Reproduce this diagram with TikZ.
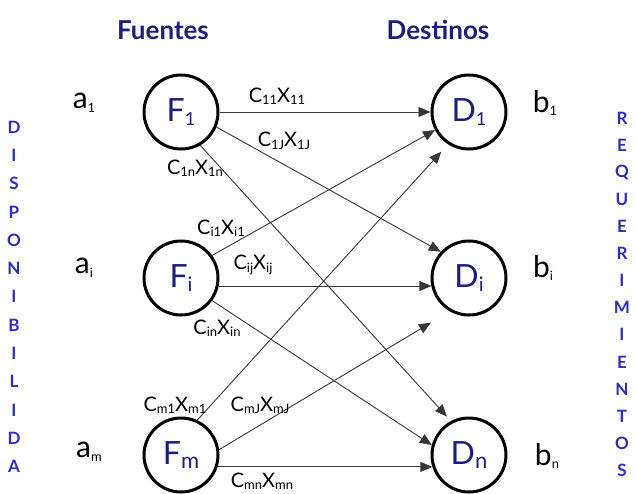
\documentclass[tikz,border=0pt]{standalone}
\usepackage{fontspec}
\setmainfont{Lato}
\usetikzlibrary{arrows.meta}
\definecolor{navy}{RGB}{30,30,120}
\definecolor{sideblue}{RGB}{45,45,190}
\definecolor{linegray}{RGB}{55,55,55}
\newcommand\subx[2]{\raisebox{-0.12em}{\fontsize{#1}{#1}\selectfont #2}}
\newcommand\cx[1]{C\subx{13}{#1}X\subx{13}{#1}}
\begin{document}
\begin{tikzpicture}[x=1pt,y=-1pt,
  nodecirc/.style={circle,draw=black,fill=white,line width=3pt,minimum size=74pt,inner sep=0pt,text=navy,font=\fontsize{32}{32}\selectfont},
  conn/.style={draw=linegray,line width=0.9pt,-{Triangle[length=12pt,width=10pt]}},
  cost/.style={font=\fontsize{20}{20}\selectfont,text=black,inner sep=0pt},
  supply/.style={font=\fontsize{30}{30}\selectfont,inner sep=0pt},
  header/.style={font=\bfseries\fontsize{26}{26}\selectfont,text=navy,inner sep=0pt},
  side/.style={font=\bfseries\fontsize{17}{17}\selectfont,text=sideblue,inner sep=0pt}]
\useasboundingbox (0,0) rectangle (636,493);
% headers
\node[header] (hf) at (163,30) {Fuentes};
\node[header] (hd) at (438,30) {Destinos};
% nodes
\node[nodecirc] (f1) at (181,112) {F\subx{18}{1}};
\node[nodecirc] (fi) at (181,278) {F\subx{20}{i}};
\node[nodecirc] (fm) at (181,455) {F\subx{22}{m}};
\node[nodecirc] (d1) at (469,112) {D\subx{18}{1}};
\node[nodecirc] (di) at (469,278) {D\subx{20}{i}};
\node[nodecirc] (dn) at (469,455) {D\subx{22}{n}};
% supplies and demands
\node[supply] (a1) at (84,103) {a\subx{13}{1}};
\node[supply] (ai) at (84,268) {a\subx{13}{i}};
\node[supply] (am) at (89,452) {a\subx{13}{m}};
\node[supply] (b1) at (545,103) {b\subx{13}{1}};
\node[supply] (bi) at (543,268) {b\subx{13}{i}};
\node[supply] (bn) at (547,456) {b\subx{13}{n}};
% side words
\foreach \l [count=\k] in {D,I,S,P,O,N,I,B,I,L,I,D,A}
  \node[side] (L\k) at (14,{127+28.3*(\k-1)}) {\l};
\foreach \l [count=\k] in {R,E,Q,U,E,R,I,M,I,E,N,T,O,S}
  \node[side] (R\k) at (622,{118+27.1*(\k-1)}) {\l};
% connectors
\draw[conn] (f1.east) -- (d1.west);
\draw[conn] (f1.-23) -- (di.137);
\draw[conn,shorten >=6pt] (f1.-60) -- (dn.118);
\draw[conn] (fi.36) -- (d1.208);
\draw[conn] (fi.-12) -- (di.192);
\draw[conn] (fi.-36) -- (dn.165);
\draw[conn,shorten >=10pt] (fm.65) -- (d1.237);
\draw[conn,shorten >=22pt] (fm.8) -- (di.240);
\draw[conn] (fm.-18) -- (dn.198);
% cost labels
\node[cost] (c11) at (277,96) {\cx{11}};
\node[cost] (c1J) at (284,141) {\cx{1J}};
\node[cost] (c1n) at (195,168) {\cx{1n}};
\node[cost] (ci1) at (221,228) {\cx{i1}};
\node[cost] (cij) at (253,265) {\cx{ij}};
\node[cost] (cin) at (217,328) {\cx{in}};
\node[cost] (cm1) at (175,405) {\cx{m1}};
\node[cost] (cmJ) at (260,405) {\cx{mJ}};
\node[cost] (cmn) at (262,481) {\cx{mn}};
\end{tikzpicture}
\end{document}
